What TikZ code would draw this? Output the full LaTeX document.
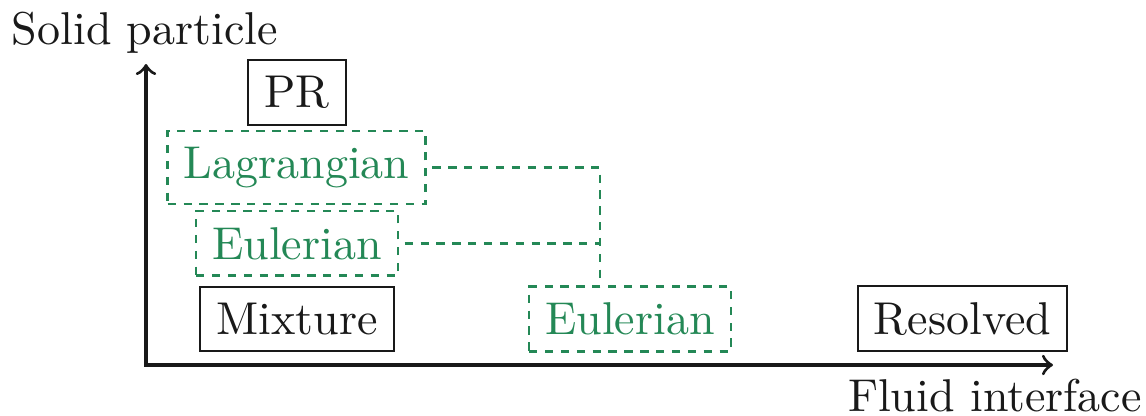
\documentclass[tikz,border=0pt]{standalone}
\usetikzlibrary{calc}
\definecolor{sgreen}{RGB}{36,136,86}
\begin{document}
\begin{tikzpicture}[x=0.2174pt,y=-0.2174pt,
  solidbox/.style={draw=black!90, text=black!90, inner sep=3.5pt, line width=0.5pt},
  greenbox/.style={draw=sgreen, text=sgreen, inner sep=3.5pt, line width=0.55pt, dash pattern=on 1.8pt off 1.65pt},
  greenline/.style={draw=sgreen, line width=0.55pt, dash pattern=on 1.8pt off 1.65pt},
  axisline/.style={draw=black!90, line width=0.7pt},
  axlabel/.style={inner sep=0pt, text=black!90}]
\useasboundingbox (0,0) rectangle (1146,415);
% axes
\coordinate (o) at (146,365);
\coordinate (ytop) at (146,64);
\coordinate (xend) at (1053,365);
\draw[axisline,<->] (ytop) -- (o) -- (xend);
\node[axlabel, anchor=base west] (ylab) at (11,44.3) {Solid particle};
\node[axlabel, anchor=base east] (xlab) at (1142.5,411) {Fluid interface};
% boxes
\node[solidbox] (pr) at (297,92.5) {PR};
\node[greenbox] (lag) at (296.7,167.5) {Lagrangian};
\node[greenbox] (el) at (297,243.3) {Eulerian};
\node[solidbox] (mix) at (297,319.2) {Mixture};
\node[greenbox] (em) at (630,319) {Eulerian};
\node[solidbox] (res) at (962.5,318.7) {Resolved};
% connectors
\coordinate (j) at (600,167.5);
\draw[greenline] ([xshift=1.2pt]lag.east) -- (j) -- (j |- em.north);
\draw[greenline] ([xshift=1.2pt]el.east) -- (el.east -| j);
\end{tikzpicture}
\end{document}
